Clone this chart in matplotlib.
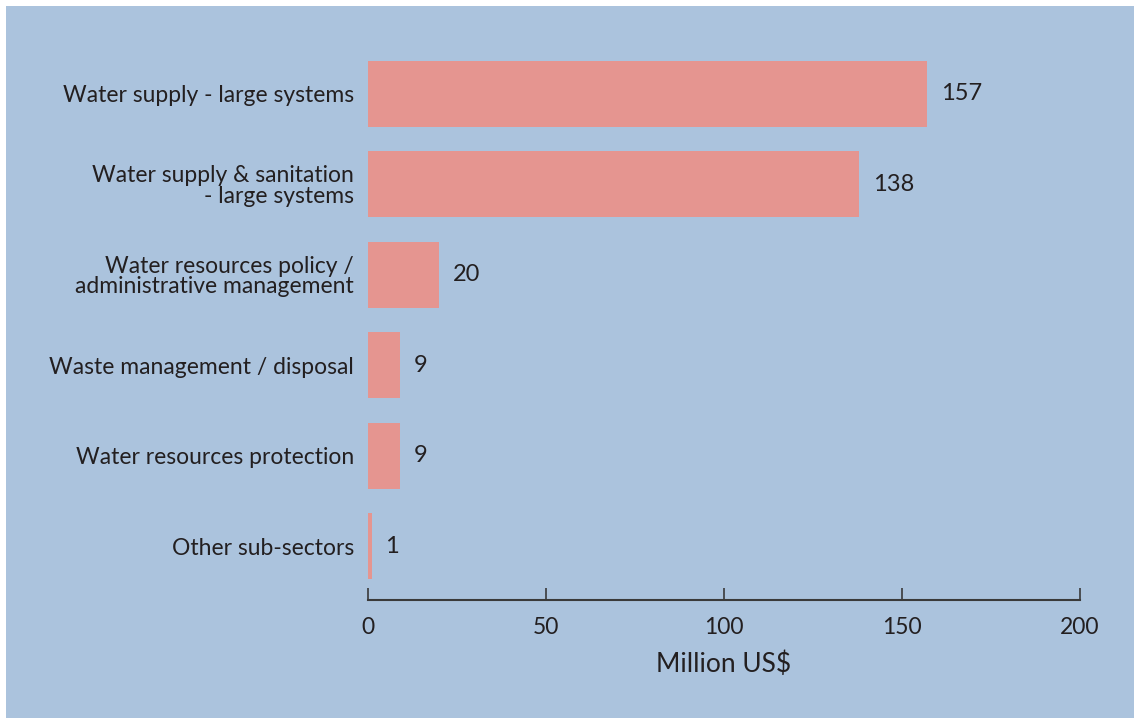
import matplotlib.pyplot as plt
from matplotlib.patches import Rectangle

categories = ["Water supply - large systems",
              "Water supply & sanitation\n- large systems",
              "Water resources policy /\nadministrative management",
              "Waste management / disposal",
              "Water resources protection",
              "Other sub-sectors"]
values = [157, 138, 20, 9, 9, 1]
xticks = [0, 50, 100, 150, 200]

BG = '#abc3dd'
BAR = '#e59590'
TXT = '#231f20'

plt.rcParams['font.family'] = ['Lato', 'DejaVu Sans']

fig = plt.figure(figsize=(11.34, 7.18), dpi=100, facecolor='white')
fig.patches.append(Rectangle((6 / 1134, -0.01), 1, 1.01 - 6 / 718, transform=fig.transFigure,
                             facecolor=BG, edgecolor='none', zorder=-1))

ax = fig.add_axes([368 / 1134, 1 - 600 / 718, 712 / 1134, 560 / 718])
ax.set_facecolor('none')

pos = list(range(len(categories)))
ax.barh(pos, values, height=0.73, color=BAR)
ax.set_ylim(len(categories) - 1 + 0.597, -0.597)
ax.set_xlim(0, 200)

for p, v in zip(pos, values):
    ax.annotate(str(v), (v, p), xytext=(10, 0), textcoords='offset points',
                va='center', ha='left', fontsize=17, color=TXT)

ax.set_yticks(pos)
ax.set_yticklabels(categories, fontsize=16.5, color=TXT, linespacing=0.95)
ax.tick_params(axis='y', length=0, pad=10)

ax.set_xticks(xticks)
ax.set_xticklabels([str(t) for t in xticks], fontsize=16.5, color=TXT)
ax.tick_params(axis='x', direction='in', length=9, width=1.2, color='#3a3a3a', pad=12)

for s in ['top', 'right', 'left']:
    ax.spines[s].set_visible(False)
ax.spines['bottom'].set_color('#3a3a3a')
ax.spines['bottom'].set_linewidth(1.5)

ax.set_xlabel('Million US$', fontsize=19, color=TXT, labelpad=10)

fig.savefig('out.png', dpi=100, facecolor=fig.get_facecolor())
